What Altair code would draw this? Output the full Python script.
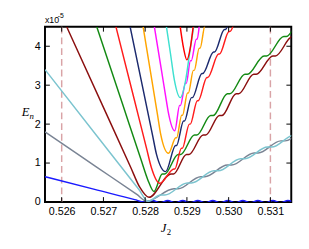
import altair as alt
import pandas as pd

W, H = 253, 180
X_DOMAIN = [0.5256, 0.5315]
Y_DOMAIN = [0, 4.5]
X_TICKS = [0.526, 0.527, 0.528, 0.529, 0.530, 0.531]
Y_TICKS = [0, 1, 2, 3, 4]
DASHED_J2 = [0.526, 0.531]

BLUE_J2 = [0.52560, 0.52679, 0.52775, 0.52798, 0.52818, 0.52836, 0.52854, 0.52872, 0.52890,
           0.52908, 0.52926, 0.52944, 0.52962, 0.52980, 0.52998, 0.53016, 0.53034, 0.53052,
           0.53070, 0.53088, 0.53106, 0.53124, 0.53142, 0.53160]
BLUE_E = [0.65, 0.325, 0.06, 0.00, 0.04, -0.02, 0.04, -0.02, 0.04,
          -0.02, 0.04, -0.02, 0.04, -0.02, 0.04, -0.02, 0.04, -0.02,
          0.04, -0.02, 0.04, -0.02, 0.04, -0.02]

GRAY_J2 = [0.52560, 0.52682, 0.52780, 0.52804, 0.52869, 0.52879, 0.52933, 0.52943, 0.52997,
           0.53007, 0.53061, 0.53071, 0.53125, 0.53135, 0.53189, 0.53199]
GRAY_E = [1.80, 0.91, 0.195, 0.02, 0.34, 0.34, 0.65, 0.65, 0.95,
          0.95, 1.26, 1.26, 1.57, 1.57, 1.87, 1.87]

CYAN_J2 = [0.52560, 0.52684, 0.52785, 0.52807, 0.52837, 0.52847, 0.52901, 0.52911, 0.52965,
           0.52975, 0.53029, 0.53039, 0.53093, 0.53103, 0.53157, 0.53167]
CYAN_E = [3.40, 1.70, 0.32, 0.02, 0.18, 0.18, 0.49, 0.49, 0.80,
          0.80, 1.11, 1.11, 1.41, 1.41, 1.72, 1.72]

MAROON_J2 = [0.52612, 0.52700, 0.52765, 0.52787, 0.52809, 0.52862, 0.52868, 0.52899, 0.52905,
             0.52939, 0.52945, 0.52978, 0.52984, 0.53018, 0.53024, 0.53060, 0.53066, 0.53106,
             0.53112, 0.53153, 0.53159]
MAROON_E = [4.50, 2.43, 0.90, 0.38, 0.12, 0.72, 0.72, 1.22, 1.22,
            1.72, 1.72, 2.22, 2.22, 2.78, 2.78, 3.28, 3.28, 3.75,
            3.75, 4.25, 4.25]

GREEN_J2 = [0.52684, 0.52745, 0.52790, 0.52806, 0.52821, 0.52841, 0.52847, 0.52879, 0.52885,
            0.52918, 0.52924, 0.52957, 0.52963, 0.52997, 0.53003, 0.53039, 0.53045, 0.53085,
            0.53091, 0.53132, 0.53138, 0.53178, 0.53184]
GREEN_E = [4.50, 2.54, 1.09, 0.58, 0.27, 0.72, 0.72, 1.22, 1.22,
           1.72, 1.72, 2.22, 2.22, 2.78, 2.78, 3.28, 3.28, 3.75,
           3.75, 4.25, 4.25, 4.75, 4.75]

RED_J2 = [0.52730, 0.52773, 0.52803, 0.52815, 0.52835, 0.52869, 0.52871, 0.52887, 0.52889,
          0.52906, 0.52908, 0.52925, 0.52927, 0.52948, 0.52950, 0.52976, 0.52978, 0.53001,
          0.53003, 0.53027, 0.53029]
RED_E = [4.50, 2.67, 1.39, 0.88, 0.48, 0.85, 0.85, 1.38, 1.38,
         2.00, 2.00, 2.60, 2.60, 3.20, 3.20, 3.80, 3.80, 4.38,
         4.38, 4.95, 4.95]

NAVY_J2 = [0.52764, 0.52796, 0.52818, 0.52827, 0.52849, 0.52873, 0.52875, 0.52892, 0.52894,
           0.52911, 0.52913, 0.52936, 0.52938, 0.52964, 0.52966, 0.52990, 0.52992, 0.53015,
           0.53017]
NAVY_E = [4.50, 2.84, 1.70, 1.23, 0.78, 1.45, 1.45, 2.08, 2.08,
          2.68, 2.68, 3.30, 3.30, 3.85, 3.85, 4.43, 4.43, 5.00,
          5.00]

ORANGE_J2 = [0.52795, 0.52816, 0.52830, 0.52837, 0.52856, 0.528735, 0.528755, 0.528875,
             0.528895, 0.529015, 0.529035, 0.529155, 0.529175, 0.529295, 0.529315, 0.529435,
             0.529455]
ORANGE_E = [4.50, 3.13, 2.21, 1.75, 1.25, 1.65, 1.65, 2.23,
            2.23, 2.80, 2.80, 3.38, 3.38, 3.95, 3.95, 4.53,
            4.53]

MAGENTA_J2 = [0.52822, 0.528385, 0.52849, 0.52855, 0.52871, 0.528825, 0.528845, 0.528965,
              0.528985, 0.529085, 0.529105, 0.529225, 0.529245, 0.529335, 0.529355]
MAGENTA_E = [4.50, 3.42, 2.72, 2.33, 1.83, 2.48, 2.48, 3.05,
             3.05, 3.63, 3.63, 4.18, 4.18, 4.75, 4.75]

TURQ_J2 = [0.52851, 0.528605, 0.52870, 0.52884, 0.52897, 0.529065, 0.52916]
TURQ_E = [4.50, 3.82, 3.13, 2.68, 3.13, 3.82, 4.50]

RED2_J2 = [0.52884, 0.52892, 0.52900, 0.52908, 0.52915]
RED2_E = [4.50, 3.95, 3.65, 3.95, 4.50]

CURVE_NAMES = ["blue", "gray", "cyan", "maroon", "green", "red", "navy", "orange",
               "magenta", "turquoise", "red2"]
CURVE_COLORS = ["#1a1aff", "#7a8494", "#7cc4cf", "#8b0f0f", "#148a14", "#ff1c1c", "#1c2a6e",
                "#ffa500", "#ff10ff", "#3fe0d0", "#ff0000"]
CURVE_X = [BLUE_J2, GRAY_J2, CYAN_J2, MAROON_J2, GREEN_J2, RED_J2, NAVY_J2, ORANGE_J2,
           MAGENTA_J2, TURQ_J2, RED2_J2]
CURVE_Y = [BLUE_E, GRAY_E, CYAN_E, MAROON_E, GREEN_E, RED_E, NAVY_E, ORANGE_E,
           MAGENTA_E, TURQ_E, RED2_E]

rows = []
for name, xs_, ys_ in zip(CURVE_NAMES, CURVE_X, CURVE_Y):
    for i, (xv, yv) in enumerate(zip(xs_, ys_)):
        rows.append({"curve": name, "idx": i, "J2": xv, "E": yv})
df = pd.DataFrame(rows)

xscale = alt.Scale(domain=X_DOMAIN, nice=False, zero=False)
yscale = alt.Scale(domain=Y_DOMAIN, nice=False, zero=False)
xaxis = alt.Axis(values=X_TICKS, format=".3f", ticks=False, tickSize=0, labelPadding=4,
                 grid=False, title=None, domain=False, labelFlush=False)
yaxis = alt.Axis(values=Y_TICKS, format="d", ticks=False, tickSize=0, labelPadding=5,
                 grid=False, title=None, domain=False)


def X():
    return alt.X("J2:Q", scale=xscale, axis=xaxis)


def Y():
    return alt.Y("E:Q", scale=yscale, axis=yaxis)


dashed = alt.Chart(pd.DataFrame({"J2": DASHED_J2})).mark_rule(
    color="#d9a3a6", strokeDash=[7, 4], strokeWidth=1.5
).encode(x=X())

lines = alt.Chart(df).mark_line(interpolate="monotone", clip=True, strokeWidth=1.5).encode(
    x=X(),
    y=Y(),
    color=alt.Color("curve:N", scale=alt.Scale(domain=CURVE_NAMES, range=CURVE_COLORS), legend=None),
    order=alt.Order("idx:Q"),
)

xt = pd.DataFrame({"J2": X_TICKS})
yt = pd.DataFrame({"E": Y_TICKS[1:]})
tick_b = alt.Chart(xt).mark_rule(color="black", strokeWidth=1).encode(
    x=X(), y=alt.value(H), y2=alt.value(H - 5))
tick_t = alt.Chart(xt).mark_rule(color="black", strokeWidth=1).encode(
    x=X(), y=alt.value(0), y2=alt.value(5))
tick_l = alt.Chart(yt).mark_rule(color="black", strokeWidth=1).encode(
    y=Y(), x=alt.value(0), x2=alt.value(5))
tick_r = alt.Chart(yt).mark_rule(color="black", strokeWidth=1).encode(
    y=Y(), x=alt.value(W), x2=alt.value(W - 5))

one = pd.DataFrame({"a": [0]})


def label(txt, x, y, size, font="Liberation Sans", style="normal", align="left"):
    return alt.Chart(one).mark_text(
        text=txt, font=font, fontSize=size, fontStyle=style, align=align,
        baseline="alphabetic", color="black"
    ).encode(x=alt.value(x), y=alt.value(y))


texts = [
    label("x10", 0, -4, 9),
    label("-5", 13, -9, 7),
    label("E", -24, 92, 13, font="Liberation Serif", style="italic"),
    label("n", -16, 95, 9, font="Liberation Serif", style="italic"),
    label("J", 119, 211, 13, font="Liberation Serif", style="italic"),
    label("2", 125, 214, 9, font="Liberation Serif"),
]

chart = alt.layer(dashed, lines, tick_b, tick_t, tick_l, tick_r, *texts).properties(
    width=W, height=H,
    autosize=alt.AutoSizeParams(type="none"),
    padding={"left": 38, "top": 16, "right": 10, "bottom": 45},
).configure_view(stroke="black", strokeWidth=2).configure_axis(
    labelFont="Liberation Sans", labelFontSize=11, labelColor="black"
)

chart.save("out.html", embed_options={"renderer": "svg", "actions": False})
